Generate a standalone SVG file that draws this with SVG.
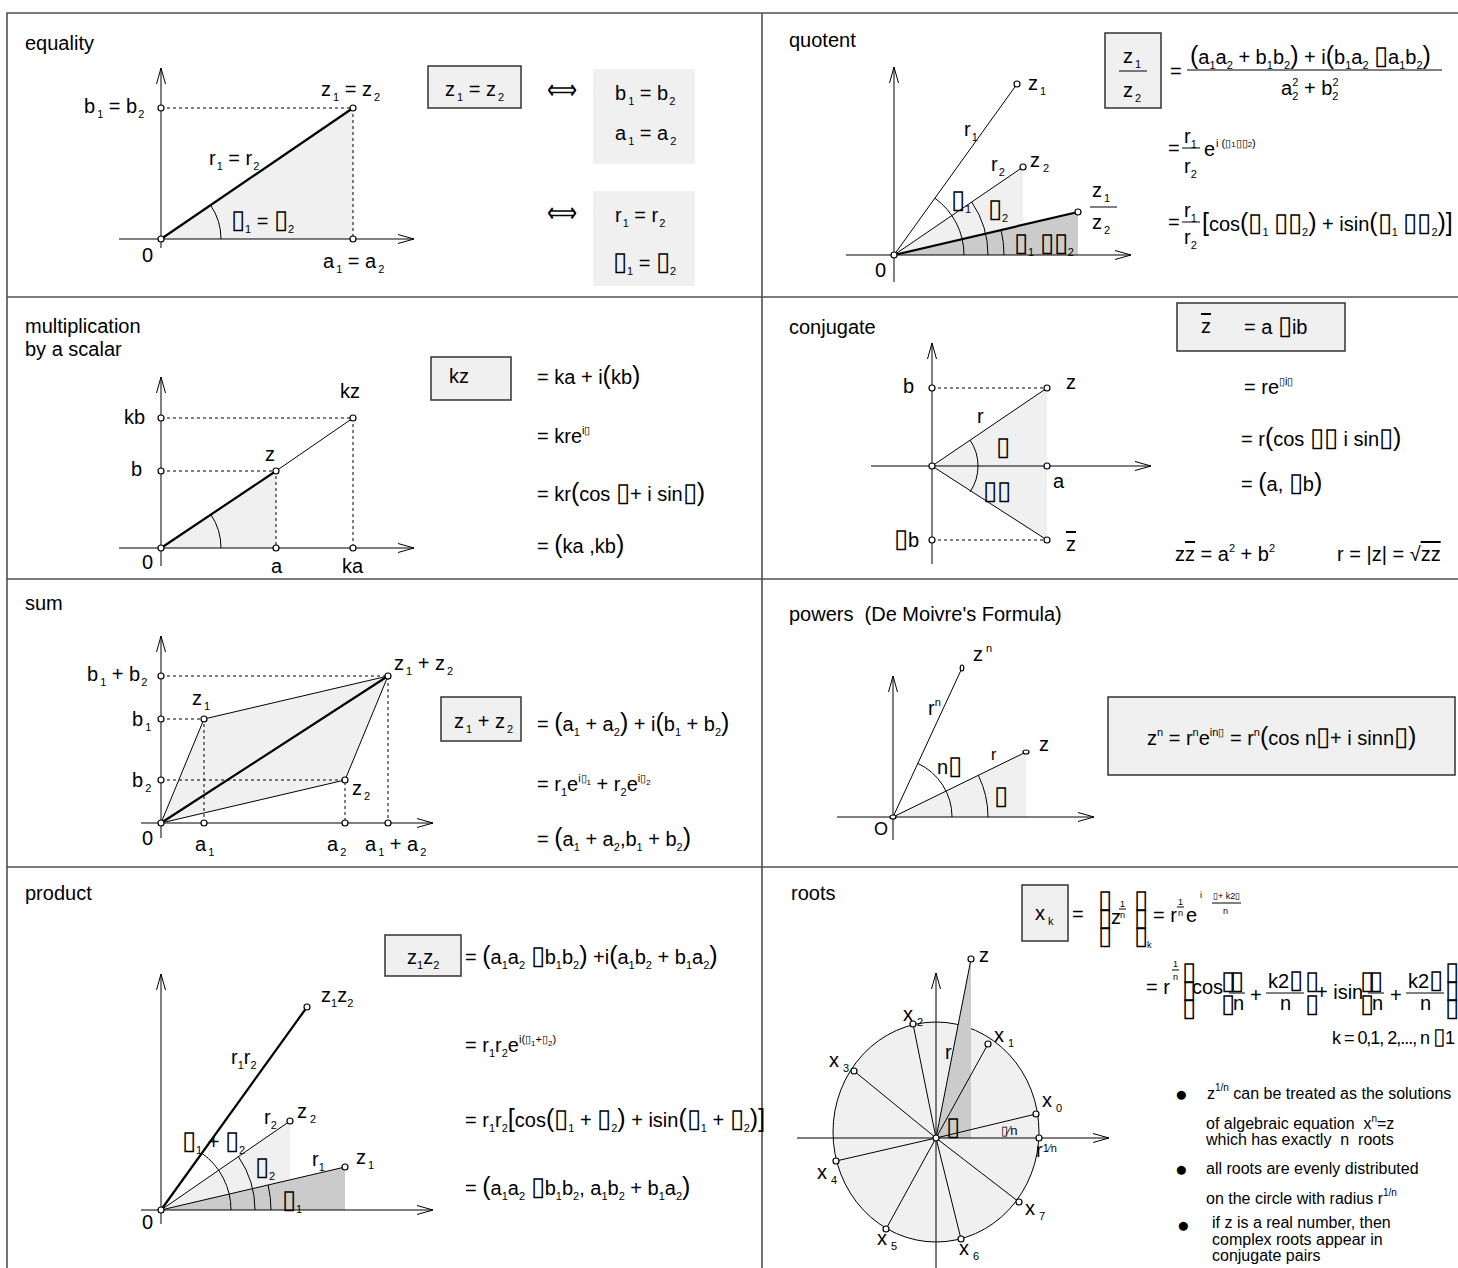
<svg xmlns="http://www.w3.org/2000/svg" width="1458" height="1268" viewBox="0 0 1458 1268">
<defs>
<style>
text{font-family:"Liberation Sans",Arial,Helvetica,sans-serif;font-size:20px;fill:#000}
.b{font-size:11px;baseline-shift:-5px}
.u{font-size:11px;baseline-shift:9px}
.uu{font-size:8px;baseline-shift:6px}
.p{font-size:25px}
.q{font-size:26px}
.sm{font-size:16px}
.tn{font-size:9px}
.bu{font-size:21px}
.fr{stroke:#505050;stroke-width:1.6;fill:none}
.ln{stroke:#000;stroke-width:1;fill:none}
.th{stroke:#000;stroke-width:2.2;fill:none}
.ds{stroke:#000;stroke-width:1;stroke-dasharray:3 3;fill:none}
.pt{fill:#fff;stroke:#000;stroke-width:1.2}
.lg{fill:#f0f0f0}
.dg{fill:#cbcbcb}
.bx{fill:#f0f0f0;stroke:#333;stroke-width:1.5}
.ax{stroke:#000;stroke-width:1;fill:none;marker-end:url(#arr)}
.ov{text-decoration:overline}
</style>
<marker id="arr" markerUnits="userSpaceOnUse" viewBox="0 0 16 10" refX="16" refY="5" markerWidth="16" markerHeight="10" orient="auto">
<path d="M0,0.5 L16,5 L0,9.5" fill="none" stroke="#000" stroke-width="1"/>
</marker>
</defs>
<rect width="1458" height="1268" fill="#fff"/>
<g id="frame">
<path class="fr" d="M7,1268V13H1458"/>
<line class="fr" x1="762" y1="13" x2="762" y2="1268"/>
<line class="fr" x1="7" y1="297" x2="1458" y2="297"/>
<line class="fr" x1="7" y1="579" x2="1458" y2="579"/>
<line class="fr" x1="7" y1="867" x2="1458" y2="867"/>
</g>

<g id="equality">
<text x="25" y="50">equality</text>
<polygon class="lg" points="161,239 353,108 353,239"/>
<path class="ds" d="M161,108H353V239"/>
<line class="ax" x1="161" y1="248" x2="161" y2="68"/>
<line class="ax" x1="119" y1="239" x2="414" y2="239"/>
<line class="th" x1="161" y1="239" x2="353" y2="108"/>
<path class="ln" d="M221,239A60,60 0 0 0 210.6,205.2"/>
<circle class="pt" cx="161" cy="239" r="3"/>
<circle class="pt" cx="161" cy="108" r="3"/>
<circle class="pt" cx="353" cy="108" r="3"/>
<circle class="pt" cx="353" cy="239" r="3"/>
<text x="84" y="113">b<tspan class="b" dx="2">1</tspan> = b<tspan class="b" dx="1">2</tspan></text>
<text x="321" y="96">z<tspan class="b" dx="2">1</tspan> = z<tspan class="b" dx="2">2</tspan></text>
<text x="209" y="165">r<tspan class="b" dx="1">1</tspan> = r<tspan class="b" dx="1">2</tspan></text>
<text x="231" y="228"><tspan class="q">▯</tspan><tspan class="b">1</tspan> = <tspan class="q">▯</tspan><tspan class="b">2</tspan></text>
<text x="142" y="262">0</text>
<text x="323" y="268">a<tspan class="b" dx="2">1</tspan> = a<tspan class="b" dx="2">2</tspan></text>
<rect class="bx" x="428" y="66" width="93" height="42"/>
<text x="445" y="96">z<tspan class="b" dx="2">1</tspan> = z<tspan class="b" dx="2">2</tspan></text>
<text x="547" y="99" style="font-size:28px" textLength="30" lengthAdjust="spacingAndGlyphs">⟺</text>
<rect class="lg" x="593" y="69" width="102" height="95"/>
<text x="615" y="100">b<tspan class="b" dx="2">1</tspan> = b<tspan class="b" dx="1">2</tspan></text>
<text x="615" y="140">a<tspan class="b" dx="2">1</tspan> = a<tspan class="b" dx="2">2</tspan></text>
<text x="547" y="222" style="font-size:28px" textLength="30" lengthAdjust="spacingAndGlyphs">⟺</text>
<rect class="lg" x="593" y="191" width="102" height="95"/>
<text x="615" y="222">r<tspan class="b" dx="1">1</tspan> = r<tspan class="b" dx="1">2</tspan></text>
<text x="613" y="270"><tspan class="q">▯</tspan><tspan class="b">1</tspan> = <tspan class="q">▯</tspan><tspan class="b">2</tspan></text>
</g>

<g id="quotent">
<text x="789" y="47">quotent</text>
<polygon class="lg" points="894,255 1023,167 1023,255"/>
<polygon class="dg" points="894,255 1078,212 1078,255"/>
<line class="ax" x1="894" y1="282" x2="894" y2="67"/>
<line class="ax" x1="846" y1="255" x2="1131" y2="255"/>
<line class="ln" x1="894" y1="255" x2="1017" y2="84"/>
<line class="ln" x1="894" y1="255" x2="1023" y2="167"/>
<line class="th" x1="894" y1="255" x2="1078" y2="212"/>
<path class="ln" d="M964,255A70,70 0 0 0 934.9,198.2M988,255A94,94 0 0 0 971.7,202M1004,255A110,110 0 0 0 1001.1,230"/>
<circle class="pt" cx="894" cy="255" r="3"/>
<circle class="pt" cx="1017" cy="84" r="3"/>
<circle class="pt" cx="1023" cy="167" r="3"/>
<circle class="pt" cx="1078" cy="212" r="3"/>
<text x="1028" y="90">z<tspan class="b" dx="2">1</tspan></text>
<text x="1030" y="167">z<tspan class="b" dx="3">2</tspan></text>
<text x="964" y="136">r<tspan class="b" dx="1">1</tspan></text>
<text x="991" y="171">r<tspan class="b" dx="1">2</tspan></text>
<text x="951" y="208"><tspan class="q">▯</tspan><tspan class="b">1</tspan></text>
<text x="988" y="217"><tspan class="q">▯</tspan><tspan class="b">2</tspan></text>
<text x="1014" y="251"><tspan class="q">▯</tspan><tspan class="b">1</tspan> <tspan class="q">▯▯</tspan><tspan class="b">2</tspan></text>
<text x="875" y="277">0</text>
<text x="1092" y="197">z<tspan class="b" dx="2">1</tspan></text>
<line class="ln" x1="1090" y1="207" x2="1117" y2="207"/>
<text x="1092" y="229">z<tspan class="b" dx="2">2</tspan></text>
<rect class="bx" x="1105" y="33" width="56" height="75"/>
<text x="1123" y="63">z<tspan class="b" dx="2">1</tspan></text>
<line class="ln" x1="1119" y1="71" x2="1147" y2="71"/>
<text x="1123" y="97">z<tspan class="b" dx="2">2</tspan></text>
<text x="1170" y="78">=</text>
<text x="1190" y="64"><tspan class="p">(</tspan>a<tspan class="b">1</tspan>a<tspan class="b">2</tspan> + b<tspan class="b">1</tspan>b<tspan class="b">2</tspan><tspan class="p">)</tspan> + i<tspan class="p">(</tspan>b<tspan class="b">1</tspan>a<tspan class="b">2</tspan> <tspan class="q">▯</tspan>a<tspan class="b">1</tspan>b<tspan class="b">2</tspan><tspan class="p">)</tspan></text>
<line class="ln" x1="1187" y1="70" x2="1442" y2="70"/>
<text x="1281" y="95">a<tspan class="b">2</tspan><tspan class="u" dx="-6">2</tspan> + b<tspan class="b">2</tspan><tspan class="u" dx="-6">2</tspan></text>
<text x="1168" y="155">=</text>
<text x="1184" y="143">r<tspan class="b">1</tspan></text>
<line class="ln" x1="1182" y1="148" x2="1200" y2="148"/>
<text x="1184" y="173">r<tspan class="b">2</tspan></text>
<text x="1204" y="156">e</text>
<text x="1216" y="147" style="font-size:11px">i (▯<tspan style="font-size:8px">1</tspan>▯▯<tspan style="font-size:8px">2</tspan>)</text>
<text x="1168" y="229">=</text>
<text x="1184" y="217">r<tspan class="b">1</tspan></text>
<line class="ln" x1="1182" y1="222" x2="1200" y2="222"/>
<text x="1184" y="244">r<tspan class="b">2</tspan></text>
<text x="1202" y="231"><tspan class="p">[</tspan>cos<tspan class="p">(</tspan><tspan class="q">▯</tspan><tspan class="b">1</tspan> <tspan class="q">▯▯</tspan><tspan class="b">2</tspan><tspan class="p">)</tspan> + isin<tspan class="p">(</tspan><tspan class="q">▯</tspan><tspan class="b">1</tspan> <tspan class="q">▯▯</tspan><tspan class="b">2</tspan><tspan class="p">)</tspan><tspan class="p">]</tspan></text>
</g>

<g id="scalar">
<text x="25" y="333">multiplication</text>
<text x="25" y="356">by a scalar</text>
<polygon class="lg" points="161,548 276,471 276,548"/>
<path class="ds" d="M161,418H353V548M161,471H276V548"/>
<line class="ax" x1="161" y1="566" x2="161" y2="377"/>
<line class="ax" x1="119" y1="548" x2="414" y2="548"/>
<line class="th" x1="161" y1="548" x2="276" y2="471"/>
<line class="ln" x1="276" y1="471" x2="353" y2="418"/>
<path class="ln" d="M221,548A60,60 0 0 0 210.9,514.6"/>
<circle class="pt" cx="161" cy="548" r="3"/>
<circle class="pt" cx="161" cy="418" r="3"/>
<circle class="pt" cx="161" cy="471" r="3"/>
<circle class="pt" cx="276" cy="471" r="3"/>
<circle class="pt" cx="353" cy="418" r="3"/>
<circle class="pt" cx="276" cy="548" r="3"/>
<circle class="pt" cx="353" cy="548" r="3"/>
<text x="124" y="424">kb</text>
<text x="131" y="476">b</text>
<text x="265" y="461">z</text>
<text x="340" y="398">kz</text>
<text x="142" y="569">0</text>
<text x="271" y="573">a</text>
<text x="342" y="573">ka</text>
<rect class="bx" x="431" y="357" width="80" height="43"/>
<text x="449" y="383">kz</text>
<text x="537" y="384">= ka + i<tspan class="p">(</tspan>kb<tspan class="p">)</tspan></text>
<text x="537" y="443">= kre<tspan class="u">i▯</tspan></text>
<text x="537" y="501">= kr<tspan class="p">(</tspan>cos <tspan class="q">▯</tspan>+ i sin<tspan class="q">▯</tspan><tspan class="p">)</tspan></text>
<text x="537" y="553">= <tspan class="p">(</tspan>ka ,kb<tspan class="p">)</tspan></text>
</g>

<g id="conjugate">
<text x="789" y="334">conjugate</text>
<polygon class="lg" points="932,466 1047,388 1047,540"/>
<path class="ds" d="M932,388H1047M932,540H1047"/>
<line class="ax" x1="932" y1="564" x2="932" y2="343"/>
<line class="ax" x1="871" y1="466" x2="1151" y2="466"/>
<line class="ln" x1="932" y1="466" x2="1047" y2="388"/>
<line class="ln" x1="932" y1="466" x2="1047" y2="540"/>
<path class="ln" d="M970.1,440.2A46,46 0 0 1 970.1,491.8"/>
<circle class="pt" cx="932" cy="466" r="3"/>
<circle class="pt" cx="932" cy="388" r="3"/>
<circle class="pt" cx="932" cy="540" r="3"/>
<circle class="pt" cx="1047" cy="388" r="3"/>
<circle class="pt" cx="1047" cy="466" r="3"/>
<circle class="pt" cx="1047" cy="540" r="3"/>
<text x="903" y="393">b</text>
<text x="1066" y="389">z</text>
<text x="977" y="423">r</text>
<text x="996" y="455" class="q">▯</text>
<text x="1053" y="488">a</text>
<text x="983" y="499" class="q">▯▯</text>
<text x="894" y="547"><tspan class="q">▯</tspan>b</text>
<text x="1066" y="551" class="ov">z</text>
<rect class="bx" x="1177" y="303" width="168" height="48"/>
<text x="1201" y="333" class="ov">z</text>
<text x="1244" y="334">= a <tspan class="q">▯</tspan>ib</text>
<text x="1244" y="394">= re<tspan class="u">▯i▯</tspan></text>
<text x="1241" y="446">= r<tspan class="p">(</tspan>cos <tspan class="q">▯▯</tspan> i sin<tspan class="q">▯</tspan><tspan class="p">)</tspan></text>
<text x="1241" y="491">= <tspan class="p">(</tspan>a, <tspan class="q">▯</tspan>b<tspan class="p">)</tspan></text>
<text x="1175" y="561">z<tspan class="ov">z</tspan> = a<tspan class="u">2</tspan> + b<tspan class="u">2</tspan></text>
<text x="1337" y="561">r = |z| = √<tspan class="ov">zz</tspan></text>
</g>

<g id="sum">
<text x="25" y="610">sum</text>
<polygon points="161,823 204,719 388,676 345,780" fill="#f0f0f0" stroke="#000" stroke-width="1"/>
<path class="ds" d="M161,676H388V823M161,719H204V823M161,780H345V823"/>
<line class="ax" x1="161" y1="838" x2="161" y2="636"/>
<line class="ax" x1="141" y1="823" x2="433" y2="823"/>
<line class="th" x1="161" y1="823" x2="388" y2="676"/>
<circle class="pt" cx="161" cy="823" r="3"/>
<circle class="pt" cx="161" cy="676" r="3"/>
<circle class="pt" cx="161" cy="719" r="3"/>
<circle class="pt" cx="161" cy="780" r="3"/>
<circle class="pt" cx="204" cy="719" r="3"/>
<circle class="pt" cx="345" cy="780" r="3"/>
<circle class="pt" cx="388" cy="676" r="3"/>
<circle class="pt" cx="204" cy="823" r="3"/>
<circle class="pt" cx="345" cy="823" r="3"/>
<circle class="pt" cx="388" cy="823" r="3"/>
<text x="87" y="681">b<tspan class="b" dx="2">1</tspan> + b<tspan class="b" dx="1">2</tspan></text>
<text x="192" y="705">z<tspan class="b" dx="2">1</tspan></text>
<text x="132" y="726">b<tspan class="b" dx="2">1</tspan></text>
<text x="132" y="787">b<tspan class="b" dx="2">2</tspan></text>
<text x="352" y="795">z<tspan class="b" dx="2">2</tspan></text>
<text x="394" y="670">z<tspan class="b" dx="2">1</tspan> + z<tspan class="b" dx="2">2</tspan></text>
<text x="142" y="845">0</text>
<text x="195" y="851">a<tspan class="b" dx="2">1</tspan></text>
<text x="327" y="851">a<tspan class="b" dx="2">2</tspan></text>
<text x="365" y="851">a<tspan class="b" dx="2">1</tspan> + a<tspan class="b" dx="2">2</tspan></text>
<rect class="bx" x="441" y="697" width="80" height="44"/>
<text x="454" y="728">z<tspan class="b" dx="2">1</tspan> + z<tspan class="b" dx="2">2</tspan></text>
<text x="537" y="731">= <tspan class="p">(</tspan>a<tspan class="b">1</tspan> + a<tspan class="b">2</tspan><tspan class="p">)</tspan> + i<tspan class="p">(</tspan>b<tspan class="b">1</tspan> + b<tspan class="b">2</tspan><tspan class="p">)</tspan></text>
<text x="537" y="791">= r<tspan class="b">1</tspan>e<tspan class="u">i▯</tspan><tspan class="uu">1</tspan> + r<tspan class="b">2</tspan>e<tspan class="u">i▯</tspan><tspan class="uu">2</tspan></text>
<text x="537" y="846">= <tspan class="p">(</tspan>a<tspan class="b">1</tspan> + a<tspan class="b">2</tspan>,b<tspan class="b">1</tspan> + b<tspan class="b">2</tspan><tspan class="p">)</tspan></text>
</g>

<g id="powers">
<text x="789" y="621" xml:space="preserve" style="white-space:pre">powers  (De Moivre's Formula)</text>
<polygon class="lg" points="893,817 1026,752 1026,817"/>
<line class="ax" x1="893" y1="840" x2="893" y2="676"/>
<line class="ax" x1="837" y1="817" x2="1094" y2="817"/>
<line class="ln" x1="893" y1="817" x2="962" y2="668"/>
<line class="ln" x1="893" y1="817" x2="1026" y2="752"/>
<path class="ln" d="M952,817A59,59 0 0 0 917.8,763.4M988,817A95,95 0 0 0 978.3,775.3"/>
<ellipse class="pt" cx="893" cy="817" rx="3" ry="2"/>
<ellipse class="pt" cx="962" cy="668" rx="1.8" ry="3"/>
<ellipse class="pt" cx="1026" cy="752" rx="3" ry="2"/>
<text x="973" y="661">z<tspan class="u" dx="3">n</tspan></text>
<text x="928" y="715">r<tspan class="u">n</tspan></text>
<text x="937" y="774">n<tspan class="q">▯</tspan></text>
<text x="991" y="760" class="sm">r</text>
<text x="1039" y="751">z</text>
<text x="994" y="804" class="q">▯</text>
<text x="874" y="835" style="font-size:18px">O</text>
<rect class="bx" x="1108" y="697" width="347" height="78"/>
<text x="1147" y="745">z<tspan class="u">n</tspan> = r<tspan class="u">n</tspan>e<tspan class="u">in▯</tspan> = r<tspan class="u">n</tspan><tspan class="p">(</tspan>cos n<tspan class="q">▯</tspan>+ i sinn<tspan class="q">▯</tspan><tspan class="p">)</tspan></text>
</g>

<g id="product">
<text x="25" y="900">product</text>
<polygon class="lg" points="161,1210 290,1121 290,1210"/>
<polygon class="dg" points="161,1210 345,1167 345,1210"/>
<line class="ax" x1="161" y1="1224" x2="161" y2="974"/>
<line class="ax" x1="141" y1="1210" x2="433" y2="1210"/>
<line class="th" x1="161" y1="1210" x2="307" y2="1007"/>
<line class="ln" x1="161" y1="1210" x2="290" y2="1121"/>
<line class="ln" x1="161" y1="1210" x2="345" y2="1167"/>
<path class="ln" d="M231,1210A70,70 0 0 0 201.9,1153.2M255,1210A94,94 0 0 0 238.4,1156.6M271,1210A110,110 0 0 0 268.1,1185"/>
<circle class="pt" cx="161" cy="1210" r="3"/>
<circle class="pt" cx="307" cy="1007" r="3"/>
<circle class="pt" cx="290" cy="1121" r="3"/>
<circle class="pt" cx="345" cy="1167" r="3"/>
<text x="321" y="1002">z<tspan class="b">1</tspan>z<tspan class="b">2</tspan></text>
<text x="231" y="1064">r<tspan class="b">1</tspan>r<tspan class="b">2</tspan></text>
<text x="297" y="1118">z<tspan class="b" dx="3">2</tspan></text>
<text x="264" y="1124">r<tspan class="b">2</tspan></text>
<text x="182" y="1149"><tspan class="q">▯</tspan><tspan class="b">1</tspan> + <tspan class="q">▯</tspan><tspan class="b">2</tspan></text>
<text x="255" y="1175"><tspan class="q">▯</tspan><tspan class="b">2</tspan></text>
<text x="312" y="1166">r<tspan class="b">1</tspan></text>
<text x="356" y="1164">z<tspan class="b" dx="2">1</tspan></text>
<text x="282" y="1208"><tspan class="q">▯</tspan><tspan class="b">1</tspan></text>
<text x="142" y="1229">0</text>
<rect class="bx" x="385" y="935" width="76" height="41"/>
<text x="407" y="964">z<tspan class="b">1</tspan>z<tspan class="b">2</tspan></text>
<text x="465" y="964">= <tspan class="p">(</tspan>a<tspan class="b">1</tspan>a<tspan class="b">2</tspan> <tspan class="q">▯</tspan>b<tspan class="b">1</tspan>b<tspan class="b">2</tspan><tspan class="p">)</tspan> +i<tspan class="p">(</tspan>a<tspan class="b">1</tspan>b<tspan class="b">2</tspan> + b<tspan class="b">1</tspan>a<tspan class="b">2</tspan><tspan class="p">)</tspan></text>
<text x="465" y="1052">= r<tspan class="b">1</tspan>r<tspan class="b">2</tspan>e<tspan class="u">i(▯</tspan><tspan class="uu">1</tspan><tspan class="u">+▯</tspan><tspan class="uu">2</tspan><tspan class="u">)</tspan></text>
<text x="465" y="1127">= r<tspan class="b">1</tspan>r<tspan class="b">2</tspan><tspan class="p">[</tspan>cos<tspan class="p">(</tspan><tspan class="q">▯</tspan><tspan class="b">1</tspan> + <tspan class="q">▯</tspan><tspan class="b">2</tspan><tspan class="p">)</tspan> + isin<tspan class="p">(</tspan><tspan class="q">▯</tspan><tspan class="b">1</tspan> + <tspan class="q">▯</tspan><tspan class="b">2</tspan><tspan class="p">)</tspan><tspan class="p">]</tspan></text>
<text x="465" y="1195">= <tspan class="p">(</tspan>a<tspan class="b">1</tspan>a<tspan class="b">2</tspan> <tspan class="q">▯</tspan>b<tspan class="b">1</tspan>b<tspan class="b">2</tspan>, a<tspan class="b">1</tspan>b<tspan class="b">2</tspan> + b<tspan class="b">1</tspan>a<tspan class="b">2</tspan><tspan class="p">)</tspan></text>
</g>

<g id="roots">
<text x="791" y="900">roots</text>
<ellipse cx="936" cy="1132" rx="103" ry="110" fill="#f0f0f0" stroke="#000" stroke-width="1"/>
<polygon class="dg" points="936,1138 971,959 971,1138"/>
<line class="ax" x1="936" y1="1268" x2="936" y2="973"/>
<line class="ax" x1="797" y1="1138" x2="1109" y2="1138"/>
<path class="ln" d="M936,1138L971,959M936,1138L1036,1114M936,1138L988,1044M936,1138L913,1024M936,1138L854,1071M936,1138L836,1161M936,1138L886,1229M936,1138L961,1239M936,1138L1019,1202"/>
<circle class="pt" cx="936" cy="1138" r="3"/>
<circle class="pt" cx="971" cy="959" r="3"/>
<circle class="pt" cx="1036" cy="1114" r="3"/>
<circle class="pt" cx="988" cy="1044" r="3"/>
<circle class="pt" cx="913" cy="1024" r="3"/>
<circle class="pt" cx="854" cy="1071" r="3"/>
<circle class="pt" cx="836" cy="1161" r="3"/>
<circle class="pt" cx="886" cy="1229" r="3"/>
<circle class="pt" cx="961" cy="1239" r="3"/>
<circle class="pt" cx="1019" cy="1202" r="3"/>
<circle class="pt" cx="1039" cy="1138" r="3"/>
<text x="979" y="962">z</text>
<text x="945" y="1059">r</text>
<text x="946" y="1135" class="q">▯</text>
<text x="1001" y="1135" style="font-size:13px">▯⁄n</text>
<text x="1036" y="1157">r<tspan style="font-size:11px" baseline-shift="5">1⁄n</tspan></text>
<text x="1042" y="1107">x<tspan class="b" dx="4">0</tspan></text>
<text x="994" y="1042">x<tspan class="b" dx="4">1</tspan></text>
<text x="903" y="1021">x<tspan class="b" dx="4">2</tspan></text>
<text x="829" y="1067">x<tspan class="b" dx="4">3</tspan></text>
<text x="817" y="1179">x<tspan class="b" dx="4">4</tspan></text>
<text x="877" y="1245">x<tspan class="b" dx="4">5</tspan></text>
<text x="959" y="1255">x<tspan class="b" dx="4">6</tspan></text>
<text x="1025" y="1215">x<tspan class="b" dx="4">7</tspan></text>
<rect class="bx" x="1022" y="885" width="46" height="56"/>
<text x="1035" y="920">x<tspan class="b" dx="3">k</tspan></text>
<text><tspan x="1072" y="921">=</tspan><tspan class="q" x="1098" y="908">▯</tspan><tspan class="q" x="1098" y="926">▯</tspan><tspan class="q" x="1098" y="944">▯</tspan><tspan x="1111" y="924">z</tspan><tspan class="tn" x="1120" y="907">1</tspan><tspan class="tn" x="1120" y="918">n</tspan><tspan class="q" x="1134" y="908">▯</tspan><tspan class="q" x="1134" y="926">▯</tspan><tspan class="q" x="1134" y="944">▯</tspan><tspan class="tn" x="1147" y="948">k</tspan><tspan x="1153" y="922">= r</tspan><tspan class="tn" x="1178" y="905">1</tspan><tspan class="tn" x="1178" y="916">n</tspan><tspan x="1186" y="922">e</tspan><tspan class="tn" x="1200" y="898">i</tspan><tspan class="tn" x="1213" y="899">▯+ k2▯</tspan><tspan class="tn" x="1223" y="914">n</tspan></text>
<path class="ln" d="M1119,909H1126M1177,907H1184M1212,903H1241"/>
<text><tspan x="1146" y="994">= r</tspan><tspan class="tn" x="1173" y="967">1</tspan><tspan class="tn" x="1173" y="980">n</tspan><tspan class="q" x="1182" y="980">▯</tspan><tspan class="q" x="1182" y="998">▯</tspan><tspan class="q" x="1182" y="1016">▯</tspan><tspan x="1192" y="994">cos</tspan><tspan class="q" x="1221" y="989">▯</tspan><tspan class="q" x="1221" y="1012">▯</tspan><tspan class="q" x="1230" y="989">▯</tspan><tspan x="1233" y="1010">n</tspan><tspan x="1250" y="1002">+</tspan><tspan x="1268" y="988">k2</tspan><tspan class="q">▯</tspan><tspan x="1280" y="1010">n</tspan><tspan class="q" x="1305" y="989">▯</tspan><tspan class="q" x="1305" y="1012">▯</tspan><tspan x="1316" y="999">+ isin</tspan><tspan class="q" x="1360" y="989">▯</tspan><tspan class="q" x="1360" y="1012">▯</tspan><tspan class="q" x="1369" y="989">▯</tspan><tspan x="1372" y="1010">n</tspan><tspan x="1390" y="1002">+</tspan><tspan x="1408" y="988">k2</tspan><tspan class="q">▯</tspan><tspan x="1420" y="1010">n</tspan><tspan class="q" x="1445" y="980">▯</tspan><tspan class="q" x="1445" y="998">▯</tspan><tspan class="q" x="1445" y="1016">▯</tspan></text>
<path class="ln" d="M1172,970H1179M1229,993H1245M1266,993H1304M1368,993H1384M1406,993H1444"/>
<text x="1332" y="1044" style="font-size:18px" textLength="123">k = 0,1, 2,..., n <tspan style="font-size:23px">▯</tspan>1</text>
<text x="1175" y="1101" class="bu">●</text>
<text x="1207" y="1099" class="sm">z<tspan style="font-size:10px" baseline-shift="8">1/n</tspan> can be treated as the solutions</text>
<text x="1206" y="1129" class="sm" xml:space="preserve" style="white-space:pre">of algebraic equation  x<tspan style="font-size:10px" baseline-shift="7">n</tspan>=z</text>
<text x="1206" y="1145" class="sm" xml:space="preserve" style="white-space:pre">which has exactly  n  roots</text>
<text x="1175" y="1176" class="bu">●</text>
<text x="1206" y="1174" class="sm">all roots are evenly distributed</text>
<text x="1206" y="1204" class="sm">on the circle with radius r<tspan style="font-size:10px" baseline-shift="8">1/n</tspan></text>
<text x="1177" y="1232" class="bu">●</text>
<text x="1212" y="1228" class="sm">if z is a real number, then</text>
<text x="1212" y="1245" class="sm">complex roots appear in</text>
<text x="1212" y="1261" class="sm">conjugate pairs</text>
</g>
</svg>
